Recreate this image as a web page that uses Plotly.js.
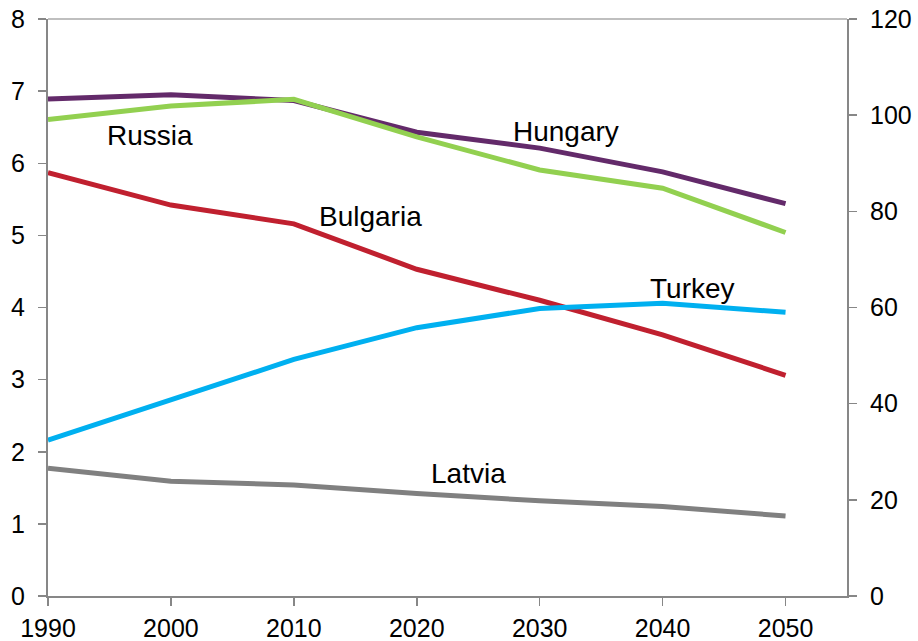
<!DOCTYPE html>
<html>
<head>
<meta charset="utf-8">
<script src="https://cdn.plot.ly/plotly-3.0.1.min.js"></script>
<style>html,body{margin:0;padding:0;background:#fff;}#chart{width:918px;height:641px;}</style>
</head>
<body>
<div id="chart"></div>
<script>
// Data (left axis: Hungary, Bulgaria, Latvia; right axis: Russia, Turkey)
const years = [1990, 2000, 2010, 2020, 2030, 2040, 2050];
const hungary  = [6.89, 6.95, 6.87, 6.43, 6.21, 5.88, 5.44];
const bulgaria = [5.87, 5.42, 5.16, 4.53, 4.10, 3.62, 3.06];
const latvia   = [1.77, 1.59, 1.54, 1.42, 1.32, 1.24, 1.11];
const russia   = [99.1, 101.9, 103.3, 95.5, 88.6, 84.8, 75.6];
const turkey   = [32.4, 40.9, 49.2, 55.8, 59.8, 60.9, 59.0];
const xTicks = [1990, 2000, 2010, 2020, 2030, 2040, 2050];
const yLeftTicks = [0, 1, 2, 3, 4, 5, 6, 7, 8];
const yRightTicks = [0, 20, 40, 60, 80, 100, 120];

const LW = 5;
const traces = [
  {x: years, y: latvia, name: 'Latvia', mode: 'lines', line: {color: '#808080', width: LW}, yaxis: 'y'},
  {x: years, y: bulgaria, name: 'Bulgaria', mode: 'lines', line: {color: '#C0202F', width: LW}, yaxis: 'y'},
  {x: years, y: hungary, name: 'Hungary', mode: 'lines', line: {color: '#632A6A', width: LW}, yaxis: 'y'},
  {x: years, y: russia, name: 'Russia', mode: 'lines', line: {color: '#92D050', width: LW}, yaxis: 'y2'},
  {x: years, y: turkey, name: 'Turkey', mode: 'lines', line: {color: '#00B0F0', width: LW}, yaxis: 'y2'}
];

const font = {family: 'Liberation Sans, Arial, sans-serif', color: '#000'};
const lab = (t, x, y) => ({text: t, x: x, y: y, xref: 'x', yref: 'y', showarrow: false,
  font: {family: font.family, size: 28, color: '#000'}, xanchor: 'center', yanchor: 'middle'});

const layout = {
  width: 918, height: 641,
  margin: {l: 48, r: 71, t: 19, b: 45, pad: 0},
  paper_bgcolor: '#fff', plot_bgcolor: '#fff',
  showlegend: false,
  font: font,
  xaxis: {
    range: [1990, 2055], tickvals: xTicks, ticktext: xTicks.map(String),
    showgrid: false, zeroline: false, showline: true, linecolor: '#878787', linewidth: 2,
    ticks: 'outside', ticklen: 8, tickcolor: '#878787', tickwidth: 1.5,
    tickfont: {family: font.family, size: 25, color: '#000'}, ticklabelstandoff: 1
  },
  yaxis: {
    range: [0, 8], tickvals: yLeftTicks, ticktext: yLeftTicks.map(String),
    showgrid: false, zeroline: false, showline: true, linecolor: '#878787', linewidth: 2,
    ticks: 'outside', ticklen: 8, tickcolor: '#878787', tickwidth: 1.5,
    tickfont: {family: font.family, size: 25, color: '#000'}, ticklabelstandoff: 8
  },
  yaxis2: {
    range: [0, 120], tickvals: yRightTicks, ticktext: yRightTicks.map(String),
    overlaying: 'y', side: 'right', anchor: 'x',
    showgrid: false, zeroline: false, showline: true, linecolor: '#878787', linewidth: 2,
    ticks: 'outside', ticklen: 8, tickcolor: '#878787', tickwidth: 1.5,
    tickfont: {family: font.family, size: 25, color: '#000'}, ticklabelstandoff: 8
  },
  shapes: [
    {type: 'line', xref: 'paper', yref: 'paper', x0: 0, x1: 1, y0: 1, y1: 1,
     line: {color: '#BFBFBF', width: 2}, layer: 'below'}
  ],
  annotations: [
    lab('Russia', 1998.3, 6.38),
    lab('Hungary', 2032.1, 6.44),
    lab('Bulgaria', 2016.2, 5.26),
    lab('Turkey', 2042.4, 4.26),
    lab('Latvia', 2024.2, 1.70)
  ]
};

Plotly.newPlot('chart', traces, layout, {displayModeBar: false, staticPlot: true});
</script>
</body>
</html>
